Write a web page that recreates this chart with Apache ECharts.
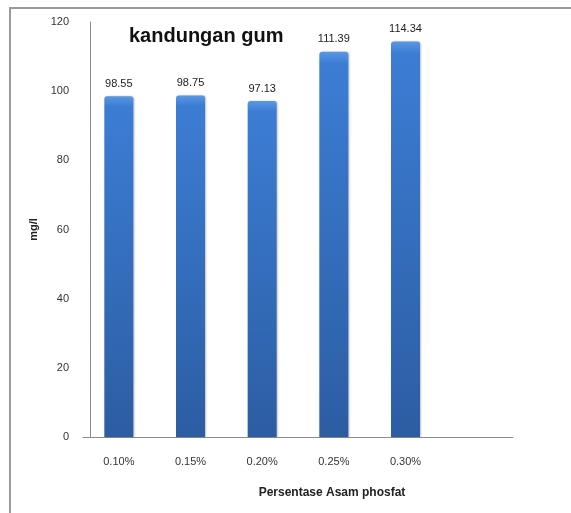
<!DOCTYPE html>
<html>
<head>
<meta charset="utf-8">
<script src="https://cdn.jsdelivr.net/npm/echarts@6/dist/echarts.min.js"></script>
<style>
  html, body { margin: 0; padding: 0; background: #fff; }
  #chart { position: absolute; left: 0; top: 0; width: 571px; height: 513px; }
  #frame { position: absolute; left: 9px; top: 7px; width: 600px; height: 600px;
           border-left: 2px solid #9a9a9a; border-top: 2px solid #9a9a9a; pointer-events: none; }
</style>
</head>
<body>
<div id="chart"></div>
<div id="frame"></div>
<script>
/* ---------- data ---------- */
const categories = ['0.10%', '0.15%', '0.20%', '0.25%', '0.30%', ''];
const values = [98.55, 98.75, 97.13, 111.39, 114.34];
const yTicks = { min: 0, max: 120, interval: 20 };

const chart = echarts.init(document.getElementById('chart'));
chart.setOption({
  animation: false,
  title: {
    text: 'kandungan gum',
    left: 124,
    top: 21,
    textStyle: { fontFamily: 'Liberation Sans', fontWeight: 'bold', fontSize: 20, color: '#111' },
  },
  grid: { left: 83, right: 58, top: 22, bottom: 76 },
  xAxis: {
    type: 'category',
    data: categories,
    name: 'Persentase Asam phosfat',
    nameLocation: 'middle',
    nameGap: 50,
    nameTextStyle: {
      fontFamily: 'Liberation Sans', fontWeight: 'bold', fontSize: 12, color: '#222',
      padding: [0, 0, 0, 68],
    },
    axisLine: { lineStyle: { color: '#8c8c8c', width: 1 } },
    axisTick: { show: false },
    axisLabel: { margin: 19, fontFamily: 'Liberation Sans', fontSize: 11, color: '#333' },
  },
  yAxis: {
    type: 'value',
    min: yTicks.min,
    max: yTicks.max,
    interval: yTicks.interval,
    offset: -7,
    name: 'mg/l',
    nameLocation: 'middle',
    nameGap: 45,
    nameRotate: 90,
    nameTextStyle: { fontFamily: 'Liberation Sans', fontWeight: 'bold', fontSize: 11, color: '#222' },
    axisLine: { show: true, lineStyle: { color: '#8c8c8c', width: 1 } },
    axisTick: { show: false },
    splitLine: { show: false },
    axisLabel: { margin: 21, fontFamily: 'Liberation Sans', fontSize: 11, color: '#333' },
  },
  series: [
    {
      type: 'bar',
      data: values,
      barWidth: 29,
      itemStyle: {
        borderRadius: [3, 3, 0, 0],
        color: new echarts.graphic.LinearGradient(0, 0, 0, 1, [
          { offset: 0, color: '#5a98e4' },
          { offset: 0.03, color: '#3c7dd4' },
          { offset: 1, color: '#2c5da3' },
        ]),
        shadowColor: 'rgba(0,0,0,0.25)',
        shadowBlur: 2,
        shadowOffsetX: 1,
      },
      label: {
        show: true,
        position: 'top',
        distance: 7,
        fontFamily: 'Liberation Sans',
        fontSize: 11,
        color: '#222',
        formatter: (p) => p.value.toFixed(2),
      },
    },
  ],
});
</script>
</body>
</html>
